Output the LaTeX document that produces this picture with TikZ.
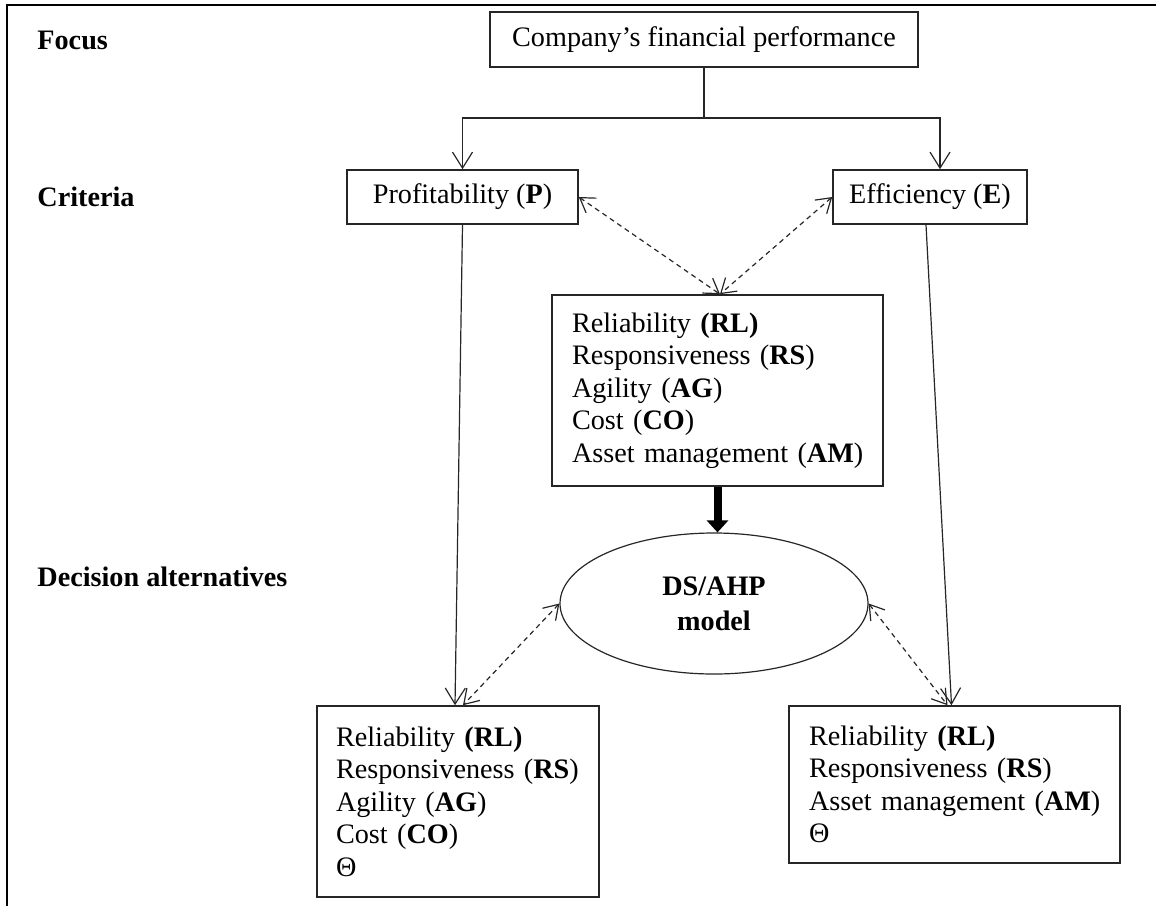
\documentclass[tikz,border=0pt]{standalone}
\usepackage{fontspec}
\setmainfont{Liberation Serif}
\usetikzlibrary{arrows.meta,shapes.geometric,calc}
\begin{document}
\begin{tikzpicture}[x=0.5pt,y=-0.5pt,
  txt/.style={font=\fontsize{14.1}{16.25}\selectfont},
  box/.style={txt, draw=black!85, line width=0.8pt, rectangle, inner sep=0pt},
  listbox/.style={txt, draw=black!85, line width=0.8pt, rectangle, inner ysep=0pt, align=left},
  level/.style={anchor=west, inner sep=0pt, font=\fontsize{14.1}{16.25}\selectfont\bfseries},
  link/.style={line width=0.6pt, draw=black!85},
  arr/.style={link, -{Straight Barb[length=8pt,width=10pt]}},
  darr/.style={link, dash pattern=on 2.5pt off 2pt,
    {Straight Barb[length=7pt,width=9pt]}-{Straight Barb[length=7pt,width=9pt]}},
]
\useasboundingbox (0,0) rectangle (1156,906);
% frame (top and left edges)
\draw[line width=1.3pt] (1156,5) -- (7,5) -- (7,906);

% level labels
\node[level] (focus) at (37,40) {Focus};
\node[level] (crit) at (37,197) {Criteria};
\node[level] (dec) at (37,577) {Decision alternatives};

% hierarchy boxes
\node[box, minimum width=214pt, minimum height=27.5pt] (goal) at (704,39.5)
  {Company’s financial performance};
\node[box, minimum width=115.5pt, minimum height=27pt] (prof) at (462.5,197)
  {Profitability (\textbf{P})};
\node[box, minimum width=97pt, minimum height=27pt] (eff) at (930,197)
  {Efficiency (\textbf{E})};
\node[listbox, inner xsep=10pt, text width=145.5pt, minimum height=95.5pt] (attrs) at (717.5,390.5)
  {\mbox{Reliability \textbf{(RL)}}\\\mbox{Responsiveness (\textbf{RS})}\\\mbox{Agility (\textbf{AG})}\\\mbox{Cost (\textbf{CO})}\\\mbox{Asset management (\textbf{AM})}};
\node[draw=black!85, line width=0.6pt, ellipse, minimum width=154pt, minimum height=70.5pt,
  inner sep=0pt, align=center, font=\fontsize{14.1}{17.5}\selectfont\bfseries] (model) at (714,603.5)
  {DS/AHP\\model};
\node[listbox, inner xsep=9.5pt, text width=122pt, minimum height=95.5pt] (altp) at (458,801.5)
  {\mbox{Reliability \textbf{(RL)}}\\\mbox{Responsiveness (\textbf{RS})}\\\mbox{Agility (\textbf{AG})}\\\mbox{Cost (\textbf{CO})}\\Θ};
\node[listbox, inner xsep=10pt, text width=145.5pt, minimum height=78.5pt] (alte) at (954.5,784.5)
  {\mbox{Reliability \textbf{(RL)}}\\\mbox{Responsiveness (\textbf{RS})}\\\mbox{Asset management (\textbf{AM})}\\Θ};

% split from the focus to the two criteria
\coordinate (split) at (704,118);
\draw[link] (goal.south) -- (split);
\draw[arr] (split) -| (prof.north);
\draw[arr] (split) -| ($(eff.north)+(10,0)$);

% criteria down to the alternatives
\draw[arr] (prof.south) -- ($(altp.north)+(-3,0)$);
\draw[arr] ($(eff.south)+(-4,0)$) -- ($(alte.north)+(-3,0)$);

% dashed links between criteria and attributes
\coordinate (attop) at ($(attrs.north)+(2.5,0)$);
\draw[darr] (prof.east) -- (attop);
\draw[darr] (eff.west) -- (attop);

% attributes feed the model
\draw[line width=4pt, -{Triangle[length=6pt,width=10.5pt]}] (attrs.south) -- (attrs.south |- model.north);

% model to the alternatives
\draw[darr] (model.west) -- ($(altp.north)+(5,0)$);
\draw[darr] (model.east) -- ($(alte.north)+(-7,0)$);
\end{tikzpicture}
\end{document}
